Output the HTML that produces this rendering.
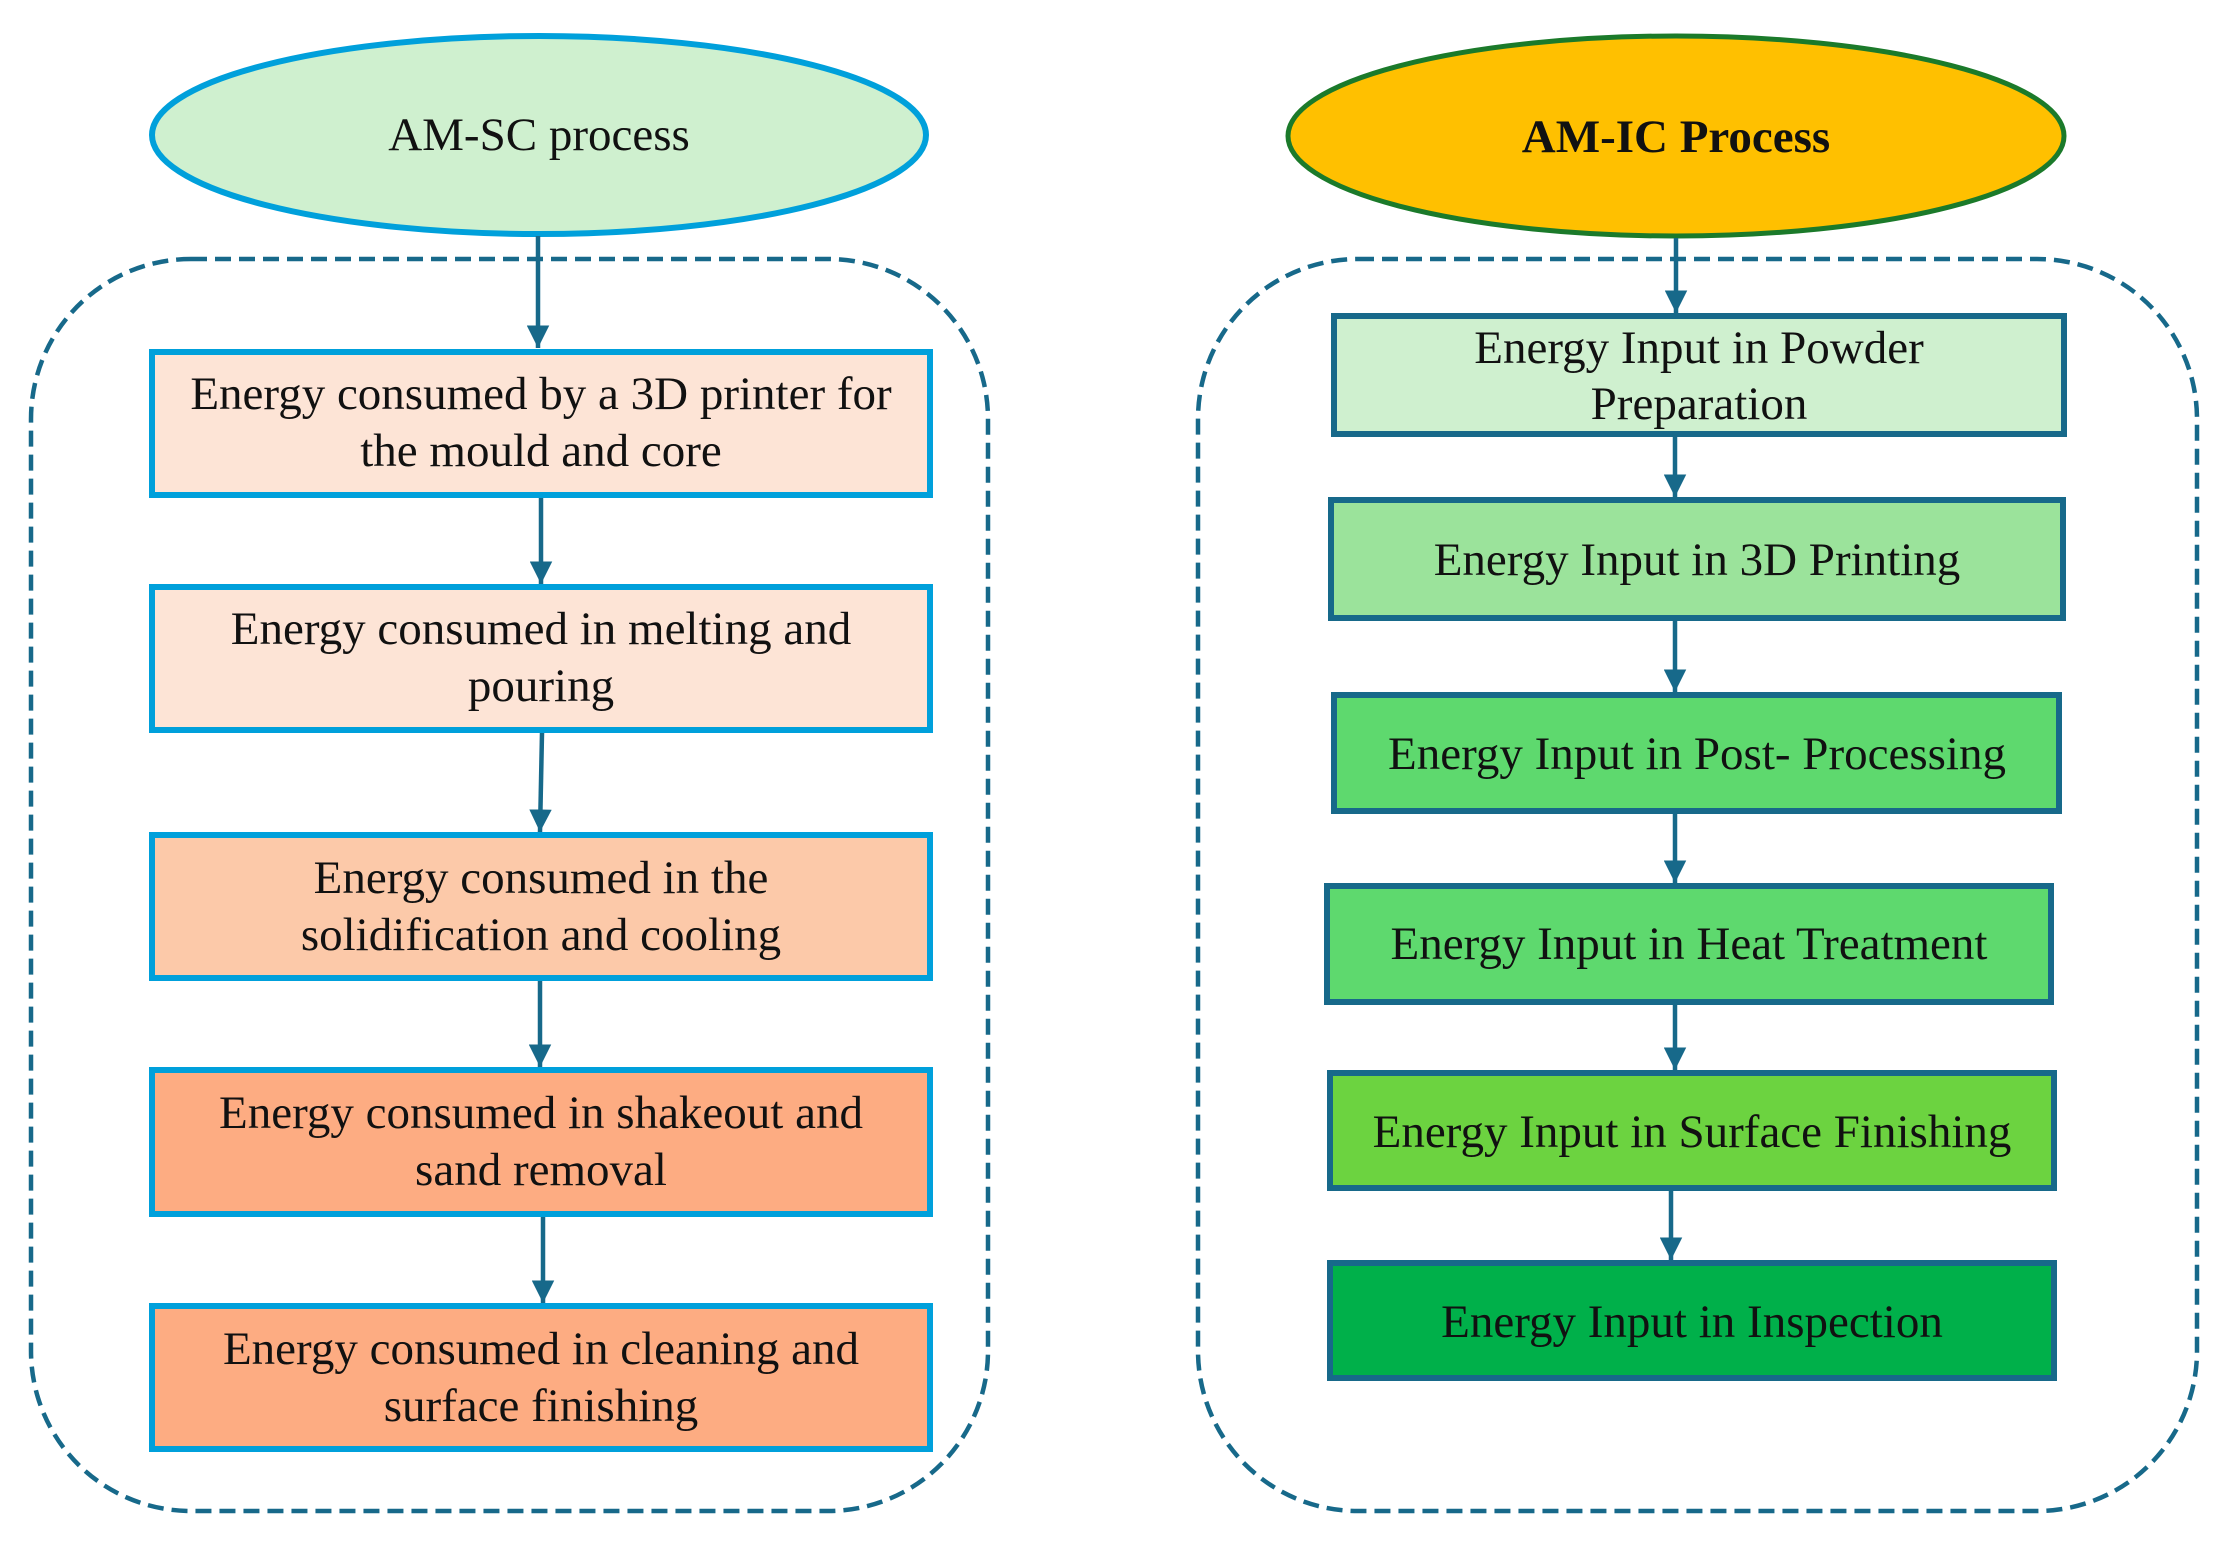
<!DOCTYPE html>
<html><head><meta charset="utf-8"><style>html,body{margin:0;padding:0;background:#fff}svg{display:block}text{font-family:"Liberation Serif",serif;font-size:47px;fill:#111;text-anchor:middle}</style></head>
<body>
<svg width="2223" height="1549" viewBox="0 0 2223 1549" xmlns="http://www.w3.org/2000/svg">
<defs>
<marker id="a" markerWidth="5" markerHeight="5" refX="5" refY="2.5" orient="auto" markerUnits="strokeWidth"><path d="M0,0 L5,2.5 L0,5 z" fill="#17698a"/></marker>
</defs>
<g fill="none" stroke="#17698a" stroke-width="4.5" stroke-dasharray="16,8">
<rect x="31" y="259" width="957" height="1252" rx="160"/>
<rect x="1198" y="259" width="999" height="1252" rx="160"/>
</g>
<ellipse cx="539" cy="135" rx="387" ry="99" fill="#cff0cf" stroke="#00a0db" stroke-width="6"/>
<text x="539" y="150">AM-SC process</text>
<ellipse cx="1676" cy="136" rx="388" ry="100" fill="#ffc000" stroke="#1b7a2a" stroke-width="5"/>
<text x="1676" y="152" style="font-weight:bold">AM-IC Process</text>
<g stroke="#00a0db" stroke-width="6">
<rect x="152" y="352" width="778" height="143" fill="#fde4d6"/>
<rect x="152" y="587" width="778" height="143" fill="#fde4d6"/>
<rect x="152" y="835" width="778" height="143" fill="#fcc9a9"/>
<rect x="152" y="1070" width="778" height="144" fill="#fdac82"/>
<rect x="152" y="1306" width="778" height="143" fill="#fdac82"/>
</g>
<text x="541" y="409">Energy consumed by a 3D printer for</text>
<text x="541" y="466">the mould and core</text>
<text x="541" y="644">Energy consumed in melting and</text>
<text x="541" y="701">pouring</text>
<text x="541" y="893">Energy consumed in the</text>
<text x="541" y="950">solidification and cooling</text>
<text x="541" y="1128">Energy consumed in shakeout and</text>
<text x="541" y="1185">sand removal</text>
<text x="541" y="1364">Energy consumed in cleaning and</text>
<text x="541" y="1421">surface finishing</text>
<g stroke="#17698a" stroke-width="6">
<rect x="1334" y="316" width="730" height="118" fill="#cff0cf"/>
<rect x="1331" y="500" width="732" height="118" fill="#9be39b"/>
<rect x="1334" y="695" width="725" height="116" fill="#5ed96e"/>
<rect x="1327" y="886" width="724" height="116" fill="#5ed96e"/>
<rect x="1330" y="1073" width="724" height="115" fill="#6cd340"/>
<rect x="1330" y="1263" width="724" height="115" fill="#00b04a"/>
</g>
<text x="1699" y="363">Energy Input in Powder</text>
<text x="1699" y="419">Preparation</text>
<text x="1697" y="575">Energy Input in 3D Printing</text>
<text x="1697" y="769">Energy Input in Post- Processing</text>
<text x="1689" y="959">Energy Input in Heat Treatment</text>
<text x="1692" y="1147">Energy Input in Surface Finishing</text>
<text x="1692" y="1337">Energy Input in Inspection</text>
<g stroke="#17698a" stroke-width="4.5" marker-end="url(#a)">
<line x1="538" y1="236" x2="538" y2="348"/>
<line x1="541" y1="498" x2="541" y2="584"/>
<line x1="542" y1="733" x2="540" y2="832"/>
<line x1="540" y1="981" x2="540" y2="1067"/>
<line x1="543" y1="1217" x2="543" y2="1303"/>
<line x1="1676" y1="238" x2="1676" y2="313"/>
<line x1="1675" y1="437" x2="1675" y2="497"/>
<line x1="1675" y1="621" x2="1675" y2="692"/>
<line x1="1675" y1="814" x2="1675" y2="883"/>
<line x1="1675" y1="1005" x2="1675" y2="1070"/>
<line x1="1671" y1="1191" x2="1671" y2="1260"/>
</g>
</svg>
</body></html>
